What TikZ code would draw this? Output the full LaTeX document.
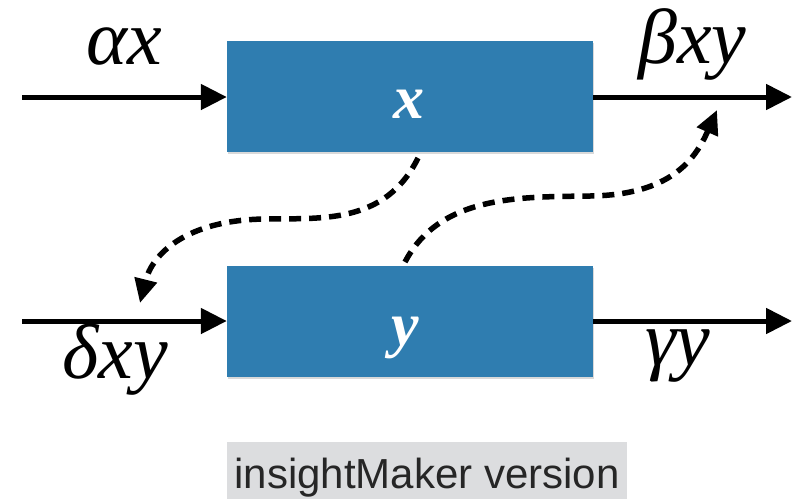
\documentclass[tikz,border=0pt]{standalone}
\usepackage{fontspec}
\setmainfont{Liberation Serif}
\newfontfamily\capfont{Liberation Sans}
\usetikzlibrary{arrows.meta,calc,shadows}
\definecolor{boxblue}{HTML}{2F7DB0}
\definecolor{capgray}{HTML}{DCDDDF}
\tikzset{
  stock/.style={fill=boxblue, draw=none, minimum width=366pt, minimum height=111pt, inner sep=0pt,
    drop shadow={shadow xshift=1pt, shadow yshift=-2pt, opacity=0.3}},
  stocklbl/.style={text=white, font=\fontsize{62}{64}\selectfont\bfseries\itshape, inner sep=0pt, anchor=base},
  flow/.style={line width=5pt, -{Triangle[length=26pt,width=25pt]}},
  infl/.style={line width=5.5pt, dash pattern=on 12pt off 8pt, -{Triangle[length=24pt,width=22pt]}},
  lbl/.style={font=\fontsize{78}{80}\selectfont\itshape, inner sep=0pt, anchor=base west},
}
\begin{document}
\begin{tikzpicture}[x=1pt,y=-1pt]
\useasboundingbox (0,0) rectangle (804,499);
\node[stock] (bx) at (410,96.5) {};
\node[stock] (by) at (410,321) {};
\node[stocklbl] (tx) at (409,118) {x};
\node[stocklbl] (ty) at (405,345) {y};
\coordinate (inx) at (22,97);
\coordinate (outx) at (792,97);
\coordinate (iny) at (22,321);
\coordinate (outy) at (792,321);
\draw[flow] (inx) -- (inx -| bx.west);
\draw[flow] (outx -| bx.east) -- (outx);
\draw[flow] (iny) -- (iny -| by.west);
\draw[flow] (outy -| by.east) -- (outy);
\node[lbl] (la) at (86,64) {αx};
\node[lbl] (lb) at (638,63) {βxy};
\node[lbl] (ld) at (62,378) {δxy};
\node[lbl] (lg) at (645,365) {γy};
\coordinate (s1) at (418,158);
\coordinate (m1) at (265,219);
\coordinate (e1) at (140,303);
\coordinate (s2) at (405,262);
\coordinate (m2) at (590,196);
\coordinate (e2) at (717,110);
\draw[infl] (s1) .. controls (385,225) and (320,218) .. (m1) .. controls (185,220) and (152,255) .. (e1);
\draw[infl] (s2) .. controls (440,195) and (520,197) .. (m2) .. controls (670,195) and (695,160) .. (e2);
\node[fill=capgray, minimum width=400pt, minimum height=57pt, inner sep=0pt] (cap) at (427,470.5) {};
\node[font=\capfont\fontsize{42}{44}\selectfont, text=black!85, inner sep=0pt, anchor=base] (capt) at (427,488) {insightMaker version};
\end{tikzpicture}
\end{document}
